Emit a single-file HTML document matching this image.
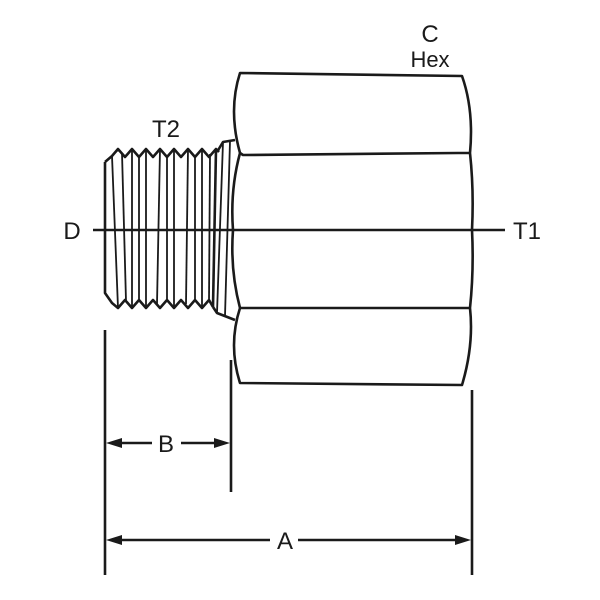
<!DOCTYPE html>
<html><head><meta charset="utf-8"><style>body{margin:0;background:#fff}svg{display:block}</style></head><body>
<svg width="600" height="600" viewBox="0 0 600 600" xmlns="http://www.w3.org/2000/svg">
<g fill="none" stroke="#1a1a1a" stroke-width="2.6" stroke-linejoin="round">
<!-- hex body -->
<path d="M240,73 L462,76 Q474,110 470,153 Q474,190 472,230 Q474,270 470,308 Q474,345 462,385 L240,383 Q228,345 240,308 Q230,270 233,230 Q230,190 240,153 Q228,110 240,73 Z"/>
<path d="M240,153 L243,155 L458,153 L470,153"/>
<path d="M240,308 L243,308 L458,308 L470,308"/>
<!-- neck chamfer -->
<path d="M217,152 L223,142 L235,140"/>
<path d="M213,307 L217,313 L235,320"/>
<line x1="223" y1="142" x2="217" y2="313" stroke-width="1.8"/>
<line x1="230" y1="141" x2="225" y2="316" stroke-width="1.8"/>
<!-- thread -->
<path d="M105,162 L112,156 L118,149 L125,157 L132,149 L139,157 L146,149 L153,157 L160,149 L167,157 L174,149 L181,157 L188,149 L195,157 L202,149 L209,157 L216,149 L219,152"/>
<path d="M105,162 L105,293 L112,303 L118,308 L125,300 L132,308 L139,300 L146,308 L153,300 L160,308 L167,300 L174,308 L181,300 L188,308 L195,300 L202,308 L209,300 L213,307"/>
<g stroke-width="1.8">
<line x1="112" y1="156" x2="118" y2="308"/>
<line x1="122" y1="153" x2="126" y2="301"/>
<line x1="132" y1="149" x2="132" y2="308"/>
<line x1="139" y1="157" x2="139" y2="300"/>
<line x1="146" y1="149" x2="146" y2="308"/>
<line x1="160" y1="149" x2="157" y2="304"/>
<line x1="167" y1="157" x2="167" y2="300"/>
<line x1="174" y1="149" x2="174" y2="308"/>
<line x1="188" y1="149" x2="186" y2="304"/>
<line x1="195" y1="157" x2="195" y2="300"/>
<line x1="202" y1="149" x2="202" y2="308"/>
<line x1="210" y1="154" x2="209" y2="302"/>
<line x1="216" y1="149" x2="213" y2="307" stroke-width="2.6"/>
</g>
<!-- centerline -->
<line x1="93" y1="230" x2="505" y2="230" stroke-width="2.4"/>
<!-- dimension lines -->
<line x1="105" y1="330" x2="105" y2="575"/>
<line x1="231" y1="360" x2="231" y2="492"/>
<line x1="472" y1="390" x2="472" y2="575"/>
<line x1="118" y1="443" x2="152" y2="443"/>
<line x1="181" y1="443" x2="218" y2="443"/>
<line x1="118" y1="540" x2="270" y2="540"/>
<line x1="298" y1="540" x2="458" y2="540"/>
</g>
<g fill="#1a1a1a">
<polygon points="106,443 122,438 122,448"/>
<polygon points="230,443 214,438 214,448"/>
<polygon points="106,540 122,535 122,545"/>
<polygon points="471,540 455,535 455,545"/>
</g>
<g font-family="Liberation Sans, sans-serif" fill="#1a1a1a" text-anchor="middle">
<text x="430" y="42" font-size="24">C</text>
<text x="430" y="67" font-size="22">Hex</text>
<text x="166" y="137" font-size="24">T2</text>
<text x="72" y="239" font-size="24">D</text>
<text x="527" y="239" font-size="24">T1</text>
<text x="166" y="452" font-size="24">B</text>
<text x="285" y="549" font-size="24">A</text>
</g>
</svg>
</body></html>
